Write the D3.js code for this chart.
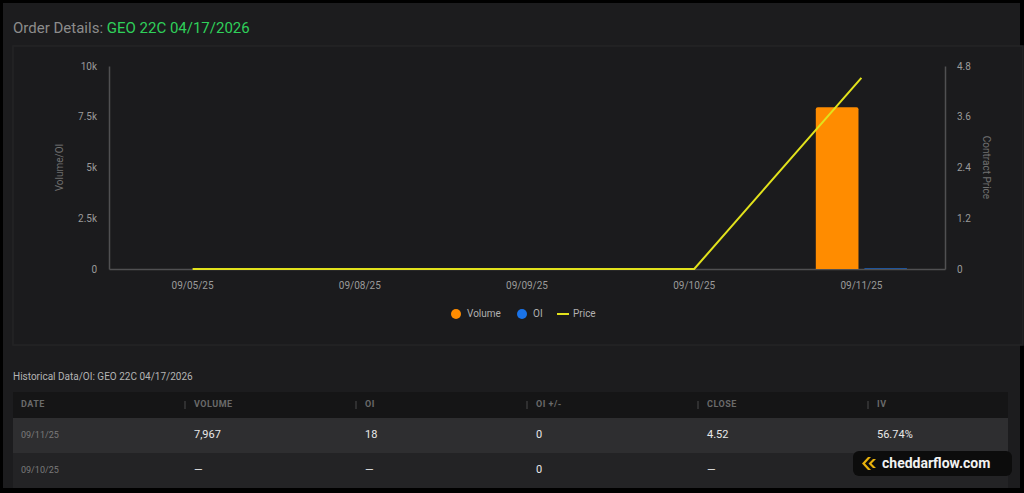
<!DOCTYPE html>
<html>
<head>
<meta charset="utf-8">
<script src="https://cdn.jsdelivr.net/npm/d3@7"></script>
<style>
  html, body { margin: 0; padding: 0; background: #000; }
  svg { display: block; }
</style>
</head>
<body>
<div id="chart"></div>
<script>
// chart data
const dates = ["09/05/25", "09/08/25", "09/09/25", "09/10/25", "09/11/25"];
const volume = [0, 0, 0, 0, 7967];
const oi = [0, 0, 0, 0, 18];
const price = [0, 0, 0, 0, 4.52];
const volTicks = [0, 2500, 5000, 7500, 10000];
const volTickLabels = ["0", "2.5k", "5k", "7.5k", "10k"];
const priceTicks = [0, 1.2, 2.4, 3.6, 4.8];

// table data
const tableCols = ["DATE", "VOLUME", "OI", "OI +/-", "CLOSE", "IV"];
const tableRows = [
  ["09/11/25", "7,967", "18", "0", "4.52", "56.74%"],
  ["09/10/25", "—", "—", "0", "—", ""]
];

const W = 1024, H = 493;
const font = "Roboto, sans-serif";
const margin = { left: 109, right: 79, top: 66, bottom: 224 };
const plotW = W - margin.left - margin.right;
const plotH = H - margin.top - margin.bottom;

const svg = d3.select("#chart").append("svg")
  .attr("width", W).attr("height", H);

// panel background
svg.append("rect").attr("x", 0).attr("y", 0).attr("width", W).attr("height", H).attr("fill", "#000");
svg.append("rect").attr("x", 3).attr("y", 3).attr("width", 1017).attr("height", 485).attr("fill", "#1c1c1e");

// chart card
svg.append("rect")
  .attr("x", 13).attr("y", 46).attr("width", 1010).attr("height", 299)
  .attr("fill", "#1b1b1d").attr("stroke", "#242426").attr("stroke-width", 1.5);

// title
const title = svg.append("text")
  .attr("x", 13).attr("y", 33)
  .attr("font-family", font).attr("font-size", "15px");
title.append("tspan").attr("fill", "#8c8c8c").text("Order Details: ");
title.append("tspan").attr("fill", "#2fd05a").text("GEO 22C 04/17/2026");

const g = svg.append("g").attr("transform", `translate(${margin.left},${margin.top})`);

const x = d3.scaleBand().domain(dates).range([0, plotW]).padding(0);
const xInner = d3.scaleBand().domain(["Volume", "OI"]).range([38, x.bandwidth() - 38]).paddingInner(0.12);
const yVol = d3.scaleLinear().domain([0, 10000]).range([plotH, 0]);
const yPrice = d3.scaleLinear().domain([0, 4.8]).range([plotH, 0]);

// axes
const axisColor = "#505052";
const labelColor = "#9a9a9a";

const leftAxis = g.append("g")
  .call(d3.axisLeft(yVol).tickValues(volTicks).tickFormat((d, i) => volTickLabels[i]).tickSize(0).tickPadding(12));
const rightAxis = g.append("g").attr("transform", `translate(${plotW},0)`)
  .call(d3.axisRight(yPrice).tickValues(priceTicks).tickFormat(d => d === 0 ? "0" : d.toFixed(1)).tickSize(0).tickPadding(12));
const bottomAxis = g.append("g").attr("transform", `translate(0,${plotH})`)
  .call(d3.axisBottom(x).tickSize(0).tickPadding(13));

[leftAxis, rightAxis, bottomAxis].forEach(a => {
  a.select(".domain").attr("stroke", axisColor).attr("stroke-width", 1.5);
  a.selectAll("text").attr("fill", labelColor).attr("font-family", font).attr("font-size", "10px");
});

// axis titles
g.append("text")
  .attr("transform", `translate(${-49},${plotH / 2}) rotate(-90)`)
  .attr("text-anchor", "middle").attr("dominant-baseline", "middle")
  .attr("font-family", font).attr("font-size", "10px").attr("fill", "#707070")
  .text("Volume/OI");
g.append("text")
  .attr("transform", `translate(${plotW + 41},${plotH / 2}) rotate(90)`)
  .attr("text-anchor", "middle").attr("dominant-baseline", "middle")
  .attr("font-family", font).attr("font-size", "10px").attr("fill", "#707070")
  .text("Contract Price");

// bars
const barData = dates.flatMap((d, i) => [
  { date: d, key: "Volume", value: volume[i], color: "#ff8c00" },
  { date: d, key: "OI", value: oi[i], color: "#1a73e8" }
]);
g.selectAll(".bar").data(barData.filter(d => d.value > 0)).join("path")
  .attr("class", "bar")
  .attr("fill", d => d.color)
  .attr("opacity", d => d.key === "OI" ? 0.6 : 1)
  .attr("d", d => {
    const bx = x(d.date) + xInner(d.key);
    const bw = xInner.bandwidth();
    const by = yVol(d.value);
    const bh = Math.max(plotH - by, 1);
    const r = Math.min(2, bh / 2);
    const top = plotH - bh;
    return `M${bx},${plotH}V${top + r}Q${bx},${top} ${bx + r},${top}H${bx + bw - r}Q${bx + bw},${top} ${bx + bw},${top + r}V${plotH}Z`;
  });

// price line
const line = d3.line()
  .x((d, i) => x(dates[i]) + x.bandwidth() / 2)
  .y(d => yPrice(d));
g.append("path").datum(price)
  .attr("fill", "none").attr("stroke", "#e2e21c").attr("stroke-width", 2)
  .attr("d", line);

// legend
const legendItems = [
  { label: "Volume", color: "#ff8c00", type: "dot" },
  { label: "OI", color: "#1a73e8", type: "dot" },
  { label: "Price", color: "#e2e21c", type: "line" }
];
const legendX = [456, 522, 557];
const legend = svg.append("g").attr("transform", "translate(0,314)");
const li = legend.selectAll("g").data(legendItems).join("g")
  .attr("transform", (d, i) => `translate(${legendX[i]},0)`);
li.filter(d => d.type === "dot").append("circle").attr("r", 5).attr("fill", d => d.color);
li.filter(d => d.type === "line").append("line")
  .attr("x1", 0).attr("x2", 12).attr("stroke", d => d.color).attr("stroke-width", 2);
li.append("text")
  .attr("x", d => d.type === "dot" ? 11 : 16)
  .attr("dominant-baseline", "middle")
  .attr("font-family", font).attr("font-size", "10px").attr("fill", "#b0b0b0")
  .text(d => d.label);

// historical table
svg.append("text")
  .attr("x", 13).attr("y", 380)
  .attr("font-family", font).attr("font-size", "10px").attr("fill", "#b4b4b4")
  .text("Historical Data/OI: GEO 22C 04/17/2026");

const tableX = 13, tableW = 995;
const colX = [21, 194, 365, 536, 707, 877];
const headerY = 392, headerH = 26, rowH = 35;
const rowFill = ["#2e2e30", "#232325"];

svg.append("rect").attr("x", tableX).attr("y", headerY).attr("width", tableW).attr("height", headerH).attr("fill", "#151516");
svg.selectAll(".hdr").data(tableCols).join("text")
  .attr("class", "hdr")
  .attr("x", (d, i) => colX[i]).attr("y", headerY + headerH / 2)
  .attr("dominant-baseline", "middle")
  .attr("font-family", font).attr("font-size", "9px").attr("font-weight", "bold")
  .attr("letter-spacing", "0.5px").attr("fill", "#6a6a6a")
  .text(d => d);
svg.selectAll(".sep").data(colX.slice(1)).join("line")
  .attr("class", "sep")
  .attr("x1", d => d - 9).attr("x2", d => d - 9)
  .attr("y1", headerY + 9).attr("y2", headerY + 17)
  .attr("stroke", "#4a4a4a").attr("stroke-width", 1);

const rows = svg.selectAll(".row").data(tableRows).join("g")
  .attr("class", "row")
  .attr("transform", (d, i) => `translate(0,${headerY + headerH + i * rowH})`);
rows.append("rect").attr("x", tableX).attr("width", tableW).attr("height", rowH)
  .attr("fill", (d, i) => rowFill[i]);
rows.selectAll("text").data(d => d).join("text")
  .attr("x", (d, i) => colX[i]).attr("y", rowH / 2)
  .attr("dominant-baseline", "middle")
  .attr("font-family", font)
  .attr("font-size", (d, i) => i === 0 ? "9px" : "11px")
  .attr("fill", (d, i) => i === 0 ? "#7a7a7a" : "#e8e8e8")
  .text(d => d);

// watermark badge
const badge = svg.append("g").attr("transform", "translate(853,451)");
badge.append("rect").attr("width", 159).attr("height", 25).attr("rx", 6).attr("fill", "#0c0c0c");
badge.append("path")
  .attr("d", "M15,6 L9,12.5 L15,19 L18,19 L12,12.5 L18,6 Z M20,8 L15.5,12.5 L20,17 L23,17 L18.5,12.5 L23,8 Z")
  .attr("fill", "#e8b10c");
badge.append("text")
  .attr("x", 29).attr("y", 13).attr("dominant-baseline", "middle")
  .attr("font-family", font).attr("font-size", "14px").attr("font-weight", "bold").attr("fill", "#f2f2f2")
  .text("cheddarflow.com");
</script>
</body>
</html>
